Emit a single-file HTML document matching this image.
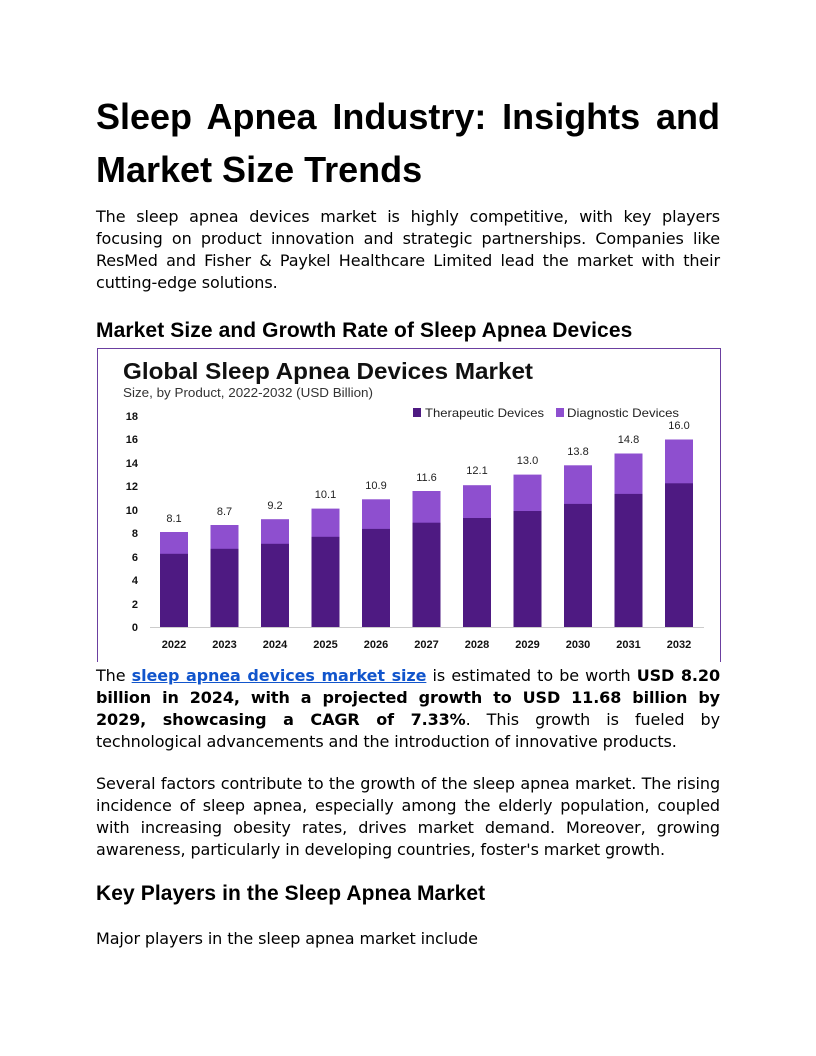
<!DOCTYPE html>
<html><head><meta charset="utf-8"><style>
body{margin:0;background:#fff;}
.pg{position:relative;width:816px;height:1056px;overflow:hidden;color:#000;}
.a{position:absolute;left:96px;width:624px;}
h1{margin:0;font:bold 36px "Liberation Sans",sans-serif;line-height:53px;}
.j{font-family:"DejaVu Sans",sans-serif;font-size:16px;line-height:22px;letter-spacing:-0.1px;}
.j div{text-align:justify;text-align-last:justify;white-space:nowrap;}
.j div.l{text-align-last:left;}
.j b{font-family:"DejaVu Sans",sans-serif;font-weight:bold;}
h2{margin:0;font:bold 21px "Liberation Sans",sans-serif;letter-spacing:0.1px;}
a{color:#1155cc;font-weight:bold;font-family:"DejaVu Sans",sans-serif;text-decoration:underline;}
</style></head><body><div class="pg">
<h1 class="a" style="top:90px;"><div style="text-align:justify;text-align-last:justify">Sleep Apnea Industry: Insights and</div><div>Market Size Trends</div></h1>
<div class="a j" style="top:206px;">
<div>The sleep apnea devices market is highly competitive, with key players</div>
<div>focusing on product innovation and strategic partnerships. Companies like</div>
<div>ResMed and Fisher &amp; Paykel Healthcare Limited lead the market with their</div>
<div class="l">cutting-edge solutions.</div></div>
<h2 class="a" style="top:319px;">Market Size and Growth Rate of Sleep Apnea Devices</h2>
<svg style="position:absolute;left:97px;top:348px" width="625" height="314" viewBox="97 348 625 314" font-family="Liberation Sans,sans-serif">
<rect x="97.5" y="348.5" width="623" height="320" fill="#fff" stroke="#6b3fa0"/>
<text x="123" y="379" font-size="23" font-weight="bold" fill="#111" textLength="410" lengthAdjust="spacingAndGlyphs">Global Sleep Apnea Devices Market</text>
<text x="123" y="397" font-size="13" fill="#333" textLength="250" lengthAdjust="spacingAndGlyphs">Size, by Product, 2022-2032 (USD Billion)</text>
<rect x="413" y="408" width="8" height="9" fill="#4e1a82"/><text x="425" y="417" font-size="12" fill="#222" textLength="119" lengthAdjust="spacingAndGlyphs">Therapeutic Devices</text>
<rect x="556" y="408" width="8" height="9" fill="#8e4fcf"/><text x="567" y="417" font-size="12" fill="#222" textLength="112" lengthAdjust="spacingAndGlyphs">Diagnostic Devices</text>
<g font-size="11" font-weight="bold" fill="#111" text-anchor="end">
<text x="138" y="420">18</text><text x="138" y="443">16</text><text x="138" y="467">14</text><text x="138" y="490">12</text><text x="138" y="514">10</text><text x="138" y="537">8</text><text x="138" y="561">6</text><text x="138" y="584">4</text><text x="138" y="608">2</text><text x="138" y="631">0</text></g>
<line x1="150" y1="627.5" x2="704" y2="627.5" stroke="#ccc"/>
<g fill="#8e4fcf">
<rect x="160" y="532" width="28" height="95"/>
<rect x="210.5" y="525" width="28" height="102"/>
<rect x="261" y="519.2" width="28" height="107.8"/>
<rect x="311.5" y="508.6" width="28" height="118.4"/>
<rect x="362" y="499.3" width="28" height="127.7"/>
<rect x="412.5" y="491" width="28" height="136"/>
<rect x="463" y="485.2" width="28" height="141.8"/>
<rect x="513.5" y="474.6" width="28" height="152.4"/>
<rect x="564" y="465.3" width="28" height="161.7"/>
<rect x="614.5" y="453.5" width="28" height="173.5"/>
<rect x="665" y="439.5" width="28" height="187.5"/>
</g>
<g fill="#4e1a82">
<rect x="160" y="553.8" width="28" height="73.2"/>
<rect x="210.5" y="548.8" width="28" height="78.2"/>
<rect x="261" y="543.8" width="28" height="83.2"/>
<rect x="311.5" y="536.8" width="28" height="90.2"/>
<rect x="362" y="528.9" width="28" height="98.1"/>
<rect x="412.5" y="522.7" width="28" height="104.3"/>
<rect x="463" y="518" width="28" height="109"/>
<rect x="513.5" y="511" width="28" height="116"/>
<rect x="564" y="503.9" width="28" height="123.1"/>
<rect x="614.5" y="493.9" width="28" height="133.1"/>
<rect x="665" y="483.3" width="28" height="143.7"/>
</g>
<g font-size="11" text-anchor="middle" fill="#222">
<text x="174" y="522">8.1</text><text x="224.5" y="515">8.7</text><text x="275" y="509">9.2</text><text x="325.5" y="498">10.1</text><text x="376" y="489">10.9</text><text x="426.5" y="481">11.6</text><text x="477" y="474">12.1</text><text x="527.5" y="464">13.0</text><text x="578" y="455">13.8</text><text x="628.5" y="443">14.8</text><text x="679" y="429">16.0</text>
</g>
<g font-size="11" font-weight="bold" text-anchor="middle" fill="#111">
<text x="174" y="648">2022</text><text x="224.5" y="648">2023</text><text x="275" y="648">2024</text><text x="325.5" y="648">2025</text><text x="376" y="648">2026</text><text x="426.5" y="648">2027</text><text x="477" y="648">2028</text><text x="527.5" y="648">2029</text><text x="578" y="648">2030</text><text x="628.5" y="648">2031</text><text x="679" y="648">2032</text>
</g>
</svg>
<div class="a j" style="top:665px;">
<div>The <a>sleep apnea devices market size</a> is estimated to be worth <b>USD 8.20</b></div>
<div><b>billion in 2024, with a projected growth to USD 11.68 billion by</b></div>
<div><b>2029, showcasing a CAGR of 7.33%</b>. This growth is fueled by</div>
<div class="l">technological advancements and the introduction of innovative products.</div></div>
<div class="a j" style="top:773px;">
<div>Several factors contribute to the growth of the sleep apnea market. The rising</div>
<div>incidence of sleep apnea, especially among the elderly population, coupled</div>
<div>with increasing obesity rates, drives market demand. Moreover, growing</div>
<div class="l">awareness, particularly in developing countries, foster's market growth.</div></div>
<h2 class="a" style="top:882px;">Key Players in the Sleep Apnea Market</h2>
<div class="a j" style="top:928px;"><div class="l">Major players in the sleep apnea market include</div></div>
</div></body></html>
